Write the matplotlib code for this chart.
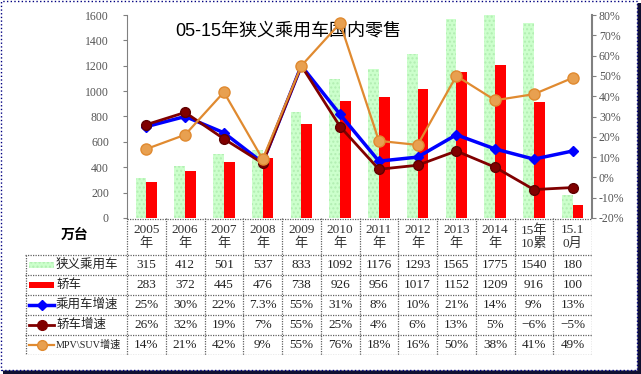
import matplotlib.pyplot as plt
from matplotlib.patches import Rectangle

plt.rcParams['font.family'] = ['Liberation Serif', 'Noto Sans CJK SC']

# 数据
categories = ['2005\n年', '2006\n年', '2007\n年', '2008\n年', '2009\n年', '2010\n年',
              '2011\n年', '2012\n年', '2013\n年', '2014\n年', '15年\n10累', '15.1\n0月']
narrow_pv = [315, 412, 501, 537, 833, 1092, 1176, 1293, 1565, 1775, 1540, 180]
sedan = [283, 372, 445, 476, 738, 926, 956, 1017, 1152, 1209, 916, 100]
pv_growth = [25, 30, 22, 7.3, 55, 31, 8, 10, 21, 14, 9, 13]
sedan_growth = [26, 32, 19, 7, 55, 25, 4, 6, 13, 5, -6, -5]
mpv_suv_growth = [14, 21, 42, 9, 55, 76, 18, 16, 50, 38, 41, 49]
pv_growth_text = ['25%', '30%', '22%', '7.3%', '55%', '31%', '8%', '10%', '21%', '14%', '9%', '13%']
series_names = ['狭义乘用车', '轿车', '乘用车增速', '轿车增速', 'MPV\\SUV增速']
title = '05-15年狭义乘用车国内零售'

W, H = 641, 374
fig = plt.figure(figsize=(W / 100, H / 100), dpi=100)

# 外框（带阴影）
fig.patches.append(Rectangle((3 / W, 0), 638 / W, 371 / H, transform=fig.transFigure,
                             facecolor='#101030', edgecolor='none', zorder=-3))
fig.patches.append(Rectangle((1 / W, 4 / H), 636 / W, 369 / H, transform=fig.transFigure,
                             facecolor='white', edgecolor='#000080', linestyle=':', lw=1, zorder=-2))

# 主图区
left, right, top, bottom = 127, 592, 15, 218
ax = fig.add_axes([left / W, 1 - bottom / H, (right - left) / W, (bottom - top) / H])
ax.set_facecolor('none')
n = len(categories)
x = list(range(n))
bw = 0.28
ax.bar([i - bw / 2 for i in x], narrow_pv, width=bw, color='#ccffcc', edgecolor='#b2eeb2',
       hatch='....', linewidth=0, zorder=2)
ax.bar([i + bw / 2 for i in x], sedan, width=bw, color='#ff0000', linewidth=0, zorder=2)
ax.set_xlim(-0.5, n - 0.5)
ax.set_ylim(0, 1600)
ax.set_yticks(range(0, 1601, 200))
ax.set_xticks([])
ax.tick_params(axis='y', direction='out', length=3, color='#808080', labelsize=8.5,
               labelcolor='#555555', pad=10)
for s in ['top', 'bottom', 'right']:
    ax.spines[s].set_visible(False)
ax.spines['left'].set_color('#808080')
ax.spines['left'].set_linestyle((0, (1, 1)))

ax2 = ax.twinx()
ax2.set_ylim(-20, 80)
ax2.set_yticks(range(-20, 81, 10))
ax2.set_yticklabels([f'{v}%' for v in range(-20, 81, 10)])
ax2.tick_params(axis='y', direction='out', length=3, color='#808080', labelsize=8.5,
                labelcolor='#555555', pad=2)
for s in ['top', 'bottom', 'left']:
    ax2.spines[s].set_visible(False)
ax2.spines['right'].set_color('#808080')
ax2.spines['right'].set_linewidth(1.5)
ax2.plot(x, pv_growth, color='#0000ff', lw=2.5, marker='D', ms=5, zorder=3)
ax2.plot(x, sedan_growth, color='#800000', lw=2, marker='o', ms=7,
         markeredgecolor='#600000', zorder=4)
ax2.plot(x, mpv_suv_growth, color='#e08a30', lw=1.6, marker='o', ms=8,
         markerfacecolor='#e8a050', markeredgecolor='#e08a30', zorder=5)

ax.text(0.347, 0.965, title, transform=ax.transAxes, ha='center', va='top', fontsize=13,
        family=['Liberation Sans', 'Noto Sans CJK SC'])

# 数据表
tl, tb = 25, 355
tab = fig.add_axes([tl / W, 1 - tb / H, (right - tl) / W, (tb - bottom) / H])
tab.axis('off')
cw = (right - left) / n


def px(p):
    return -0.5 + (p - left) / cw


tab.set_xlim(px(tl), n - 0.5)
tab.set_ylim(tb, bottom)
lc = dict(color='#606060', lw=0.9, linestyle=(0, (1, 1)))
row_y = [255, 275, 295, 315, 335, 355]
tab.plot([-0.5, n - 0.5], [bottom + 0.5, bottom + 0.5], **lc)
for y in row_y:
    tab.plot([px(tl), n - 0.5], [y, y], **lc)
tab.plot([px(tl + 0.5), px(tl + 0.5)], [255, 355], **lc)
for i in range(n + 1):
    tab.plot([i - 0.5, i - 0.5], [bottom, 355], **lc)

for i, c in enumerate(categories):
    tab.text(i, 237, c, ha='center', va='center', fontsize=9.5, color='#333333', linespacing=1.15)

rows = [[str(v) for v in narrow_pv], [str(v) for v in sedan], pv_growth_text,
        [f'{v}%' for v in sedan_growth], [f'{v}%' for v in mpv_suv_growth]]
centers = [265, 285, 305, 325, 345]
for r, yc in zip(rows, centers):
    for i, t in enumerate(r):
        tab.text(i, yc, t.replace('-', '−'), ha='center', va='center', fontsize=9.5, color='#222222')

tab.text(px(75), 235, '万台', ha='center', va='center', fontsize=10, fontweight='bold')

# 图例列
ix0, ix1 = px(29), px(54)
tab.add_patch(Rectangle((ix0, centers[0] - 3), ix1 - ix0, 6, facecolor='#ccffcc',
                        edgecolor='#b2eeb2', hatch='....', lw=0))
tab.add_patch(Rectangle((ix0, centers[1] - 3), ix1 - ix0, 6, facecolor='#ff0000', lw=0))
tab.plot([ix0, ix1], [centers[2]] * 2, color='#0000ff', lw=2.5)
tab.plot([(ix0 + ix1) / 2], [centers[2]], color='#0000ff', marker='D', ms=5)
tab.plot([ix0, ix1], [centers[3]] * 2, color='#800000', lw=2)
tab.plot([(ix0 + ix1) / 2], [centers[3]], color='#800000', marker='o', ms=7)
tab.plot([ix0, ix1], [centers[4]] * 2, color='#e08a30', lw=1.6)
tab.plot([(ix0 + ix1) / 2], [centers[4]], color='#e08a30', marker='o', ms=7,
         markerfacecolor='#e8a050')
for name, yc in zip(series_names, centers):
    fs = 7.3 if 'MPV' in name else 9
    tab.text(px(56), yc, name, ha='left', va='center', fontsize=fs, color='#222222')

plt.savefig('out.png', dpi=100)
